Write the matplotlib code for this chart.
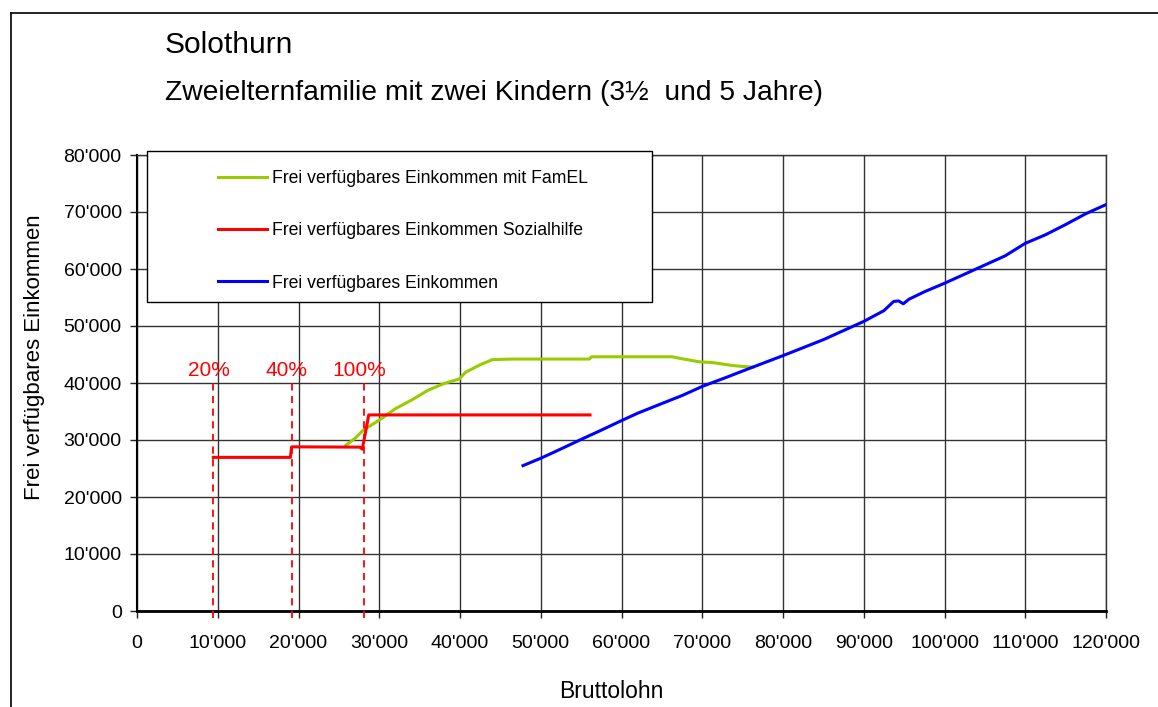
import matplotlib
matplotlib.use("Agg")
import matplotlib.pyplot as plt
from matplotlib.lines import Line2D
from matplotlib.patches import Rectangle
from matplotlib.ticker import FuncFormatter, MultipleLocator

# --- data ---
blue_x = [47800, 50000, 52000, 55000, 57000, 60000, 62000, 65000, 67500, 70000,
          73000, 76100, 80000, 82500, 85000, 87500, 90000, 92500, 93700, 94300,
          94900, 95600, 97500, 100000, 102500, 105000, 107500, 110000, 112500,
          115000, 117500, 120000]
blue_y = [25500, 26800, 28100, 30100, 31400, 33400, 34700, 36400, 37800, 39400,
          41000, 42700, 44800, 46200, 47600, 49200, 50800, 52700, 54300, 54400,
          53900, 54700, 56000, 57500, 59100, 60700, 62300, 64500, 66000,
          67800, 69700, 71300]

green_x = [25850, 27000, 28000, 30000, 32000, 34000, 36000, 38000, 39900, 40700,
           42500, 44000, 46500, 56000, 56300, 66300, 67300, 69700, 71200, 73600,
           75000, 76300]
green_y = [29050, 30300, 31700, 33500, 35500, 37000, 38700, 39900, 40700, 41900,
           43200, 44100, 44200, 44200, 44600, 44600, 44300, 43700, 43600, 43100,
           42900, 42800]

red_x = [9450, 19000, 19150, 27600, 27900, 28200, 28700, 56100]
red_y = [26950, 26950, 28800, 28750, 28400, 30600, 34400, 34400]

thresholds = [9450, 19150, 28100]
threshold_labels = ["20%", "40%", "100%"]

labels = ["Frei verfügbares Einkommen mit FamEL",
          "Frei verfügbares Einkommen Sozialhilfe",
          "Frei verfügbares Einkommen"]

plt.rcParams["font.family"] = ["Liberation Sans", "DejaVu Sans"]

W, H = 1158, 707
fig = plt.figure(figsize=(W / 100, H / 100), dpi=100)
ax = fig.add_axes([137 / W, 1 - 611 / H, (1106 - 137) / W, (611 - 155) / H])

ax.plot(green_x, green_y, color="#99CC00", lw=2.2, label=labels[0], zorder=3)
ax.plot(red_x, red_y, color="#FF0000", lw=2.2, label=labels[1], zorder=3)
ax.plot(blue_x, blue_y, color="#0000FF", lw=2.2, label=labels[2], zorder=3)

for xv, lab in zip(thresholds, threshold_labels):
    ax.plot([xv, xv], [-1300, 40300], color="#FF0000", lw=1.3,
            dashes=(4, 3), clip_on=False, zorder=3)
    ax.text(xv - 600, 42150, lab, color="#FF0000", fontsize=15,
            ha="center", va="center")

ax.set_xlim(0, 120000)
ax.set_ylim(0, 80000)
ax.xaxis.set_major_locator(MultipleLocator(10000))
ax.yaxis.set_major_locator(MultipleLocator(10000))
fmt = FuncFormatter(lambda v, p: f"{int(v):,}".replace(",", "'"))
ax.xaxis.set_major_formatter(fmt)
ax.yaxis.set_major_formatter(fmt)
ax.tick_params(axis="both", direction="out", length=5, width=1,
               labelsize=14, color="#222222")
ax.tick_params(axis="x", pad=12)
ax.tick_params(axis="y", pad=6)
ax.grid(True, color="#333333", lw=1)
ax.set_axisbelow(True)
for s in ["top", "right"]:
    ax.spines[s].set_color("#333333")
    ax.spines[s].set_linewidth(1)
ax.spines["left"].set_linewidth(1.5)
ax.spines["bottom"].set_linewidth(2)

ax.set_xlabel("Bruttolohn", fontsize=16.5, va="center")
ax.xaxis.set_label_coords((611 - 137) / 969, (611 - 692) / 456)
ax.set_ylabel("Frei verfügbares Einkommen", fontsize=16, va="center")
ax.yaxis.set_label_coords((35 - 137) / 969, (611 - 357) / 456)

# legend box
ax.add_patch(Rectangle((147 / W, 1 - 302 / H), (652 - 147) / W, (302 - 151) / H,
                       transform=fig.transFigure, facecolor="white",
                       edgecolor="black", lw=1, clip_on=False, zorder=4))
leg = ax.legend(loc="upper left", bbox_to_anchor=(218 / W, 1 - 170 / H),
                bbox_transform=fig.transFigure, frameon=False,
                borderpad=0, borderaxespad=0, handlelength=2.78,
                handletextpad=0.28, labelspacing=2.0,
                prop={"size": 12.7})
leg.set_zorder(5)

fig.text(165 / W, 1 - 45 / H, "Solothurn", fontsize=21.5,
         ha="left", va="center")
fig.text(165 / W, 1 - 93 / H, "Zweielternfamilie mit zwei Kindern (3½  und 5 Jahre)",
         fontsize=20.3, ha="left", va="center")

# outer chart border
fig.add_artist(Line2D([11 / W, 11 / W], [0, 1 - 13 / H], color="black", lw=1.2,
                      transform=fig.transFigure))
fig.add_artist(Line2D([11 / W, 1], [1 - 13 / H, 1 - 13 / H], color="black", lw=1.2,
                      transform=fig.transFigure))

fig.savefig("out.png", dpi=100)
